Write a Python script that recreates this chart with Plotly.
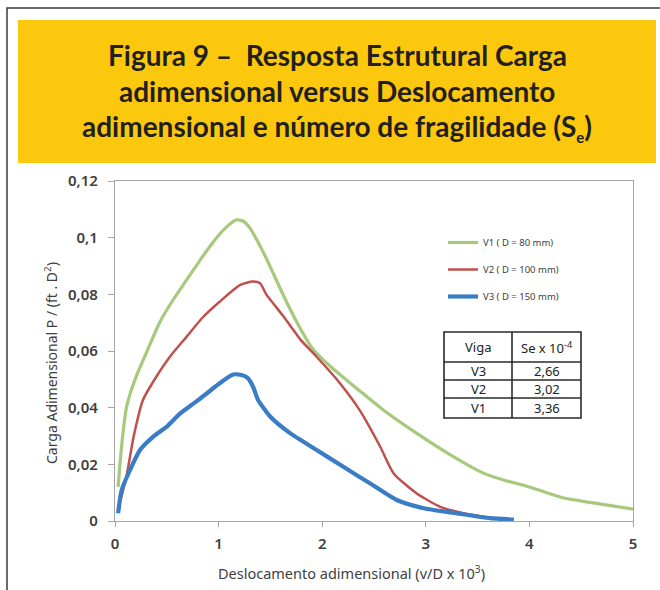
import plotly.graph_objects as go

# ---------------- data ----------------
x_v1 = [0.03, 0.05, 0.08, 0.11, 0.16, 0.21, 0.31, 0.43, 0.56, 0.69, 0.82, 0.95, 1.08, 1.17, 1.24, 1.30, 1.38,
        1.48, 1.58, 1.68, 1.78, 1.90, 2.05, 2.20, 2.40, 2.59, 2.91, 3.23, 3.56, 3.75, 4.0, 4.33, 4.6, 5.0]
y_v1 = [0.012, 0.021, 0.032, 0.040, 0.0465, 0.0515, 0.060, 0.070, 0.078, 0.085, 0.092, 0.0986, 0.1039, 0.1063,
        0.1058, 0.1035, 0.0985, 0.0912, 0.0832, 0.0755, 0.0685, 0.0612, 0.0555, 0.0508, 0.0448, 0.0392, 0.031,
        0.0235, 0.0168, 0.0145, 0.012, 0.0081, 0.0065, 0.0042]

x_v2 = [0.05, 0.11, 0.18, 0.27, 0.40, 0.53, 0.69, 0.85, 1.01, 1.21, 1.33, 1.40, 1.46, 1.62, 1.72,
        1.79, 1.95, 2.14, 2.36, 2.56, 2.69, 2.91, 3.14, 3.40, 3.66]
y_v2 = [0.007, 0.0156, 0.0298, 0.0427, 0.051, 0.058, 0.065, 0.072, 0.0774, 0.0833, 0.0845, 0.0839,
        0.080, 0.0725, 0.0675, 0.064, 0.0578, 0.050, 0.0392, 0.0262, 0.0168, 0.0098, 0.005, 0.0025, 0.001]

x_v3 = [0.03, 0.065, 0.145, 0.24, 0.37, 0.50, 0.63, 0.76, 0.885, 1.01, 1.14, 1.22, 1.28, 1.335, 1.38,
        1.50, 1.69, 1.95, 2.20, 2.46, 2.72, 2.98, 3.30, 3.62, 3.85]
y_v3 = [0.0027, 0.011, 0.018, 0.025, 0.0298, 0.0333, 0.038, 0.0415, 0.045, 0.0486, 0.0517, 0.0515,
        0.0505, 0.0472, 0.0428, 0.0368, 0.031, 0.025, 0.0192, 0.0133, 0.0074, 0.0045, 0.0027, 0.001, 0.0005]

series_names = ["V1 ( D = 80 mm)", "V2 ( D = 100 mm)", "V3 ( D = 150 mm)"]

y_tickvals = [0, 0.02, 0.04, 0.06, 0.08, 0.10, 0.12]
y_ticktext = ["0", "0,02", "0,04", "0,06", "0,08", "0,1", "0,12"]
x_tickvals = [0, 1, 2, 3, 4, 5]
x_ticktext = ["0", "1", "2", "3", "4", "5"]

table_header = ["Viga", "Se x 10<sup>-4</sup>"]
table_viga = ["V3", "V2", "V1"]
table_se = ["2,66", "3,02", "3,36"]

title_lines = [
    "Figura 9 –  Resposta Estrutural Carga",
    "adimensional versus Deslocamento",
    "adimensional e número de fragilidade (S<sub><span style='font-size:15px'>e</span></sub>)",
]

# ---------------- layout geometry (pixels) ----------------
W, H = 660, 590
L, R, T, B = 115, 27, 181, 69
PW, PH = W - L - R, H - T - B


def px(xp):
    return (xp - L) / PW


def py(yp):
    return 1 - (yp - T) / PH


fig = go.Figure()

colors = ["#a6c97c", "#c0504d", "#3a7cc6"]
widths = [3.2, 2.5, 4.2]
for xs, ys, name, c, w in zip([x_v1, x_v2, x_v3], [y_v1, y_v2, y_v3], series_names, colors, widths):
    fig.add_trace(go.Scatter(
        x=xs, y=ys, mode="lines", name=name, legendgroup=name,
        line=dict(color=c, width=w, shape="spline", smoothing=0.6),
    ))

axis_col = "#a6a6a6"
tick_font = dict(family="Noto Sans", size=15, color="#404040", weight=600)

# ---- table geometry (pixels) ----
tx0, tx1, tmid = 444, 581, 512
t_rows = [332, 362, 380, 398, 418]
tab_line = dict(color="#2a2a2a", width=1.6)

shapes = [
    # outer frame
    dict(type="rect", xref="paper", yref="paper", x0=px(7), x1=px(664), y0=py(600), y1=py(8),
         line=dict(color="#3a3a3a", width=1.5), fillcolor="rgba(0,0,0,0)", layer="below"),
    # yellow title band
    dict(type="rect", xref="paper", yref="paper", x0=px(18), x1=px(656), y0=py(163), y1=py(20),
         line=dict(width=0), fillcolor="#fcc80e", layer="below"),
    # table
    dict(type="rect", xref="paper", yref="paper", x0=px(tx0), x1=px(tx1), y0=py(t_rows[-1]), y1=py(t_rows[0]),
         line=tab_line, fillcolor="white"),
    dict(type="line", xref="paper", yref="paper", x0=px(tmid), x1=px(tmid), y0=py(t_rows[-1]), y1=py(t_rows[0]),
         line=tab_line),
]
for r in t_rows[1:-1]:
    shapes.append(dict(type="line", xref="paper", yref="paper", x0=px(tx0), x1=px(tx1), y0=py(r), y1=py(r),
                       line=tab_line))

annotations = []
for i, t in enumerate(title_lines):
    annotations.append(dict(
        text=t, xref="paper", yref="paper", x=px(337), y=py(55 + 36 * i),
        xanchor="center", yanchor="middle", showarrow=False,
        font=dict(family="Lato", size=28, color="#231f20", weight="bold"),
    ))

cell_font = dict(family="Noto Sans", size=13, color="#222222")
col_centers = [(tx0 + tmid) / 2, (tmid + tx1) / 2]
row_texts = [table_header] + [[a, b] for a, b in zip(table_viga, table_se)]
for ri, row in enumerate(row_texts):
    yc = (t_rows[ri] + t_rows[ri + 1]) / 2
    for ci, txt in enumerate(row):
        annotations.append(dict(
            text=txt, xref="paper", yref="paper", x=px(col_centers[ci]), y=py(yc),
            xanchor="center", yanchor="middle", showarrow=False, font=cell_font,
        ))

annotations.append(dict(
    text="Carga Adimensional P / (ft . D<sup>2</sup>)", xref="paper", yref="paper",
    x=px(51), y=py(363), textangle=-90, showarrow=False, xanchor="center", yanchor="middle",
    font=dict(family="Noto Sans", size=14, color="#404040"),
))
annotations.append(dict(
    text="Deslocamento adimensional (v/D x 10<sup>3</sup>)", xref="paper", yref="paper",
    x=px(351), y=py(572), showarrow=False, xanchor="center", yanchor="middle",
    font=dict(family="Noto Sans", size=14.5, color="#404040"),
))

fig.update_layout(
    width=W, height=H,
    margin=dict(l=L, r=R, t=T, b=B, pad=0),
    paper_bgcolor="white", plot_bgcolor="white",
    showlegend=True,
    legend=dict(x=px(443), y=py(228), xanchor="left", yanchor="top",
                bgcolor="rgba(0,0,0,0)", tracegroupgap=8,
                font=dict(family="Noto Sans", size=9.5, color="#404040")),
    xaxis=dict(range=[0, 5], tickvals=x_tickvals, ticktext=x_ticktext,
               showgrid=False, zeroline=False, showline=True, linecolor=axis_col, linewidth=1.3,
               mirror=True, ticks="outside", ticklen=5, tickcolor=axis_col, tickwidth=1.3,
               tickfont=tick_font, ticklabelstandoff=4, fixedrange=True),
    yaxis=dict(range=[0, 0.12], tickvals=y_tickvals, ticktext=y_ticktext,
               showgrid=False, zeroline=False, showline=True, linecolor=axis_col, linewidth=1.3,
               mirror=True, ticks="outside", ticklen=6, tickcolor=axis_col, tickwidth=1.3,
               tickfont=tick_font, ticklabelstandoff=7, fixedrange=True),
    shapes=shapes,
    annotations=annotations,
)

fig.write_html("out.html")
